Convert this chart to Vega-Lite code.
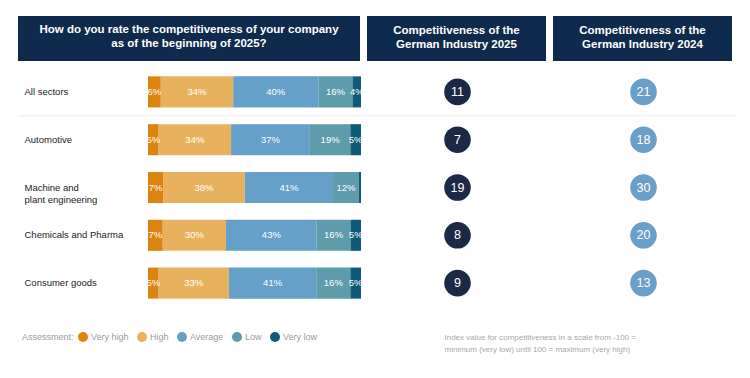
{
  "$schema": "https://vega.github.io/schema/vega-lite/v6.json",
  "padding": {"left": 17, "top": 16, "right": 0, "bottom": 0},
  "autosize": {"type": "pad"},
  "background": "white",
  "config": {
    "view": {"stroke": null},
    "font": "Liberation Sans, Arial, sans-serif"
  },
  "datasets": {
    "shares": [
      {"sector": "All sectors", "level": "Very high", "k": 1, "v": 0.06},
      {"sector": "All sectors", "level": "High", "k": 2, "v": 0.34},
      {"sector": "All sectors", "level": "Average", "k": 3, "v": 0.40},
      {"sector": "All sectors", "level": "Low", "k": 4, "v": 0.16},
      {"sector": "All sectors", "level": "Very low", "k": 5, "v": 0.04},
      {"sector": "Automotive", "level": "Very high", "k": 1, "v": 0.05},
      {"sector": "Automotive", "level": "High", "k": 2, "v": 0.34},
      {"sector": "Automotive", "level": "Average", "k": 3, "v": 0.37},
      {"sector": "Automotive", "level": "Low", "k": 4, "v": 0.19},
      {"sector": "Automotive", "level": "Very low", "k": 5, "v": 0.05},
      {"sector": "Machine and plant engineering", "level": "Very high", "k": 1, "v": 0.07},
      {"sector": "Machine and plant engineering", "level": "High", "k": 2, "v": 0.38},
      {"sector": "Machine and plant engineering", "level": "Average", "k": 3, "v": 0.41},
      {"sector": "Machine and plant engineering", "level": "Low", "k": 4, "v": 0.12},
      {"sector": "Machine and plant engineering", "level": "Very low", "k": 5, "v": 0.01},
      {"sector": "Chemicals and Pharma", "level": "Very high", "k": 1, "v": 0.07},
      {"sector": "Chemicals and Pharma", "level": "High", "k": 2, "v": 0.30},
      {"sector": "Chemicals and Pharma", "level": "Average", "k": 3, "v": 0.43},
      {"sector": "Chemicals and Pharma", "level": "Low", "k": 4, "v": 0.16},
      {"sector": "Chemicals and Pharma", "level": "Very low", "k": 5, "v": 0.05},
      {"sector": "Consumer goods", "level": "Very high", "k": 1, "v": 0.05},
      {"sector": "Consumer goods", "level": "High", "k": 2, "v": 0.33},
      {"sector": "Consumer goods", "level": "Average", "k": 3, "v": 0.41},
      {"sector": "Consumer goods", "level": "Low", "k": 4, "v": 0.16},
      {"sector": "Consumer goods", "level": "Very low", "k": 5, "v": 0.05}
    ],
    "index": [
      {"sector": "All sectors", "i2025": 11, "i2024": 21},
      {"sector": "Automotive", "i2025": 7, "i2024": 18},
      {"sector": "Machine and plant engineering", "i2025": 19, "i2024": 30},
      {"sector": "Chemicals and Pharma", "i2025": 8, "i2024": 20},
      {"sector": "Consumer goods", "i2025": 9, "i2024": 13}
    ]
  },
  "spacing": 7,
  "vconcat": [
    {
      "bounds": "flush",
      "spacing": 7,
      "hconcat": [
        {
          "width": 342, "height": 45,
          "view": {"fill": "#0e2a4c", "stroke": null},
          "data": {"values": [{"t": ["How do you rate the competitiveness of your company", "as of the beginning of 2025?"]}]},
          "mark": {"type": "text", "color": "white", "fontSize": 11.5, "fontWeight": "bold", "lineHeight": 13.5, "align": "center", "baseline": "middle", "dy": -8.5},
          "encoding": {"text": {"field": "t"}}
        },
        {
          "width": 179, "height": 45,
          "view": {"fill": "#0e2a4c", "stroke": null},
          "data": {"values": [{"t": ["Competitiveness of the", "German Industry 2025"]}]},
          "mark": {"type": "text", "color": "white", "fontSize": 11.5, "fontWeight": "bold", "lineHeight": 13.5, "align": "center", "baseline": "middle", "dy": -7.5},
          "encoding": {"text": {"field": "t"}}
        },
        {
          "width": 179, "height": 45,
          "view": {"fill": "#0e2a4c", "stroke": null},
          "data": {"values": [{"t": ["Competitiveness of the", "German Industry 2024"]}]},
          "mark": {"type": "text", "color": "white", "fontSize": 11.5, "fontWeight": "bold", "lineHeight": 13.5, "align": "center", "baseline": "middle", "dy": -7.5},
          "encoding": {"text": {"field": "t"}}
        }
      ]
    },
    {
      "bounds": "flush",
      "spacing": 0,
      "hconcat": [
        {
          "width": 346, "height": 239,
          "data": {"name": "shares"},
          "layer": [
            {
              "transform": [{"filter": "datum.sector == 'Automotive' && datum.k == 1"}],
              "mark": {"type": "rule", "color": "#ececec", "strokeWidth": 1},
              "encoding": {
                "y": {"field": "sector", "type": "nominal", "bandPosition": 0, "sort": ["All sectors", "Automotive", "Machine and plant engineering", "Chemicals and Pharma", "Consumer goods"], "scale": {"paddingInner": 0, "paddingOuter": 0}}
              }
            },
            {
              "mark": {"type": "bar", "height": {"band": 0.65}},
              "encoding": {
                "y": {
                  "field": "sector", "type": "nominal",
                  "sort": ["All sectors", "Automotive", "Machine and plant engineering", "Chemicals and Pharma", "Consumer goods"],
                  "scale": {"paddingInner": 0, "paddingOuter": 0},
                  "axis": {
                    "title": null, "domain": false, "ticks": false, "tickSize": 0, "grid": false,
                    "labelAlign": "left", "labelBaseline": "middle", "labelPadding": -6,
                    "labelFontSize": 9.5, "labelColor": "#1a1a1a", "labelLimit": 0, "labelLineHeight": 12,
                    "labelExpr": "datum.label == 'Machine and plant engineering' ? ['Machine and', 'plant engineering'] : datum.label"
                  }
                },
                "x": {"field": "v", "type": "quantitative", "stack": "normalize", "scale": {"range": [130, 343]}, "axis": null},
                "color": {
                  "field": "level", "type": "nominal",
                  "scale": {"domain": ["Very high", "High", "Average", "Low", "Very low"], "range": ["#dc8410", "#e8b15e", "#65a0c9", "#5e9bab", "#0d5b79"]},
                  "legend": {
                    "orient": "none", "legendX": 4, "legendY": 316, "direction": "horizontal",
                    "title": "Assessment:", "titleOrient": "left", "titleFontWeight": "normal", "titleColor": "#9a9a9a", "titleFontSize": 9, "titlePadding": 4,
                    "labelColor": "#9a9a9a", "labelFontSize": 9, "labelOffset": 3,
                    "symbolType": "circle", "symbolSize": 100, "symbolStrokeWidth": 0, "columnPadding": 8
                  }
                },
                "order": {"field": "k", "type": "quantitative"}
              }
            },
            {
              "mark": {"type": "text", "color": "white", "fontSize": 9.5, "baseline": "middle"},
              "encoding": {
                "y": {"field": "sector", "type": "nominal", "sort": ["All sectors", "Automotive", "Machine and plant engineering", "Chemicals and Pharma", "Consumer goods"], "scale": {"paddingInner": 0, "paddingOuter": 0}},
                "x": {"field": "v", "type": "quantitative", "stack": "normalize", "bandPosition": 0.5},
                "text": {"condition": {"test": "datum.v < 0.02", "value": ""}, "field": "v", "type": "quantitative", "format": ".0%"},
                "order": {"field": "k", "type": "quantitative"}
              }
            }
          ]
        },
        {
          "width": 187, "height": 239,
          "data": {"name": "index"},
          "title": {"text": ["Index value for competitiveness in a scale from -100 =", "minimum (very low) until 100 = maximum (very high)"], "orient": "bottom", "anchor": "start", "dx": 81, "offset": 27, "fontSize": 8, "fontWeight": "normal", "color": "#a8a8a8", "lineHeight": 12, "baseline": "top"},
          "layer": [
            {
              "transform": [{"filter": "datum.sector == 'Automotive'"}],
              "mark": {"type": "rule", "color": "#ececec", "strokeWidth": 1},
              "encoding": {"y": {"field": "sector", "type": "nominal", "bandPosition": 0, "sort": ["All sectors", "Automotive", "Machine and plant engineering", "Chemicals and Pharma", "Consumer goods"], "scale": {"paddingInner": 0, "paddingOuter": 0}, "axis": null}}
            },
            {
              "mark": {"type": "circle", "size": 707, "color": "#1b2846", "opacity": 1},
              "encoding": {"y": {"field": "sector", "type": "nominal", "sort": ["All sectors", "Automotive", "Machine and plant engineering", "Chemicals and Pharma", "Consumer goods"], "scale": {"paddingInner": 0, "paddingOuter": 0}, "axis": null}}
            },
            {
              "mark": {"type": "text", "color": "white", "fontSize": 12.5, "baseline": "middle"},
              "encoding": {"y": {"field": "sector", "type": "nominal", "sort": ["All sectors", "Automotive", "Machine and plant engineering", "Chemicals and Pharma", "Consumer goods"], "scale": {"paddingInner": 0, "paddingOuter": 0}, "axis": null}, "text": {"field": "i2025", "type": "quantitative"}}
            }
          ]
        },
        {
          "width": 185, "height": 239,
          "data": {"name": "index"},
          "layer": [
            {
              "transform": [{"filter": "datum.sector == 'Automotive'"}],
              "mark": {"type": "rule", "color": "#ececec", "strokeWidth": 1},
              "encoding": {"y": {"field": "sector", "type": "nominal", "bandPosition": 0, "sort": ["All sectors", "Automotive", "Machine and plant engineering", "Chemicals and Pharma", "Consumer goods"], "scale": {"paddingInner": 0, "paddingOuter": 0}, "axis": null}}
            },
            {
              "mark": {"type": "circle", "size": 707, "color": "#6a9fc9", "opacity": 1},
              "encoding": {"y": {"field": "sector", "type": "nominal", "sort": ["All sectors", "Automotive", "Machine and plant engineering", "Chemicals and Pharma", "Consumer goods"], "scale": {"paddingInner": 0, "paddingOuter": 0}, "axis": null}}
            },
            {
              "mark": {"type": "text", "color": "white", "fontSize": 12.5, "baseline": "middle"},
              "encoding": {"y": {"field": "sector", "type": "nominal", "sort": ["All sectors", "Automotive", "Machine and plant engineering", "Chemicals and Pharma", "Consumer goods"], "scale": {"paddingInner": 0, "paddingOuter": 0}, "axis": null}, "text": {"field": "i2024", "type": "quantitative"}}
            }
          ]
        }
      ]
    }
  ]
}
